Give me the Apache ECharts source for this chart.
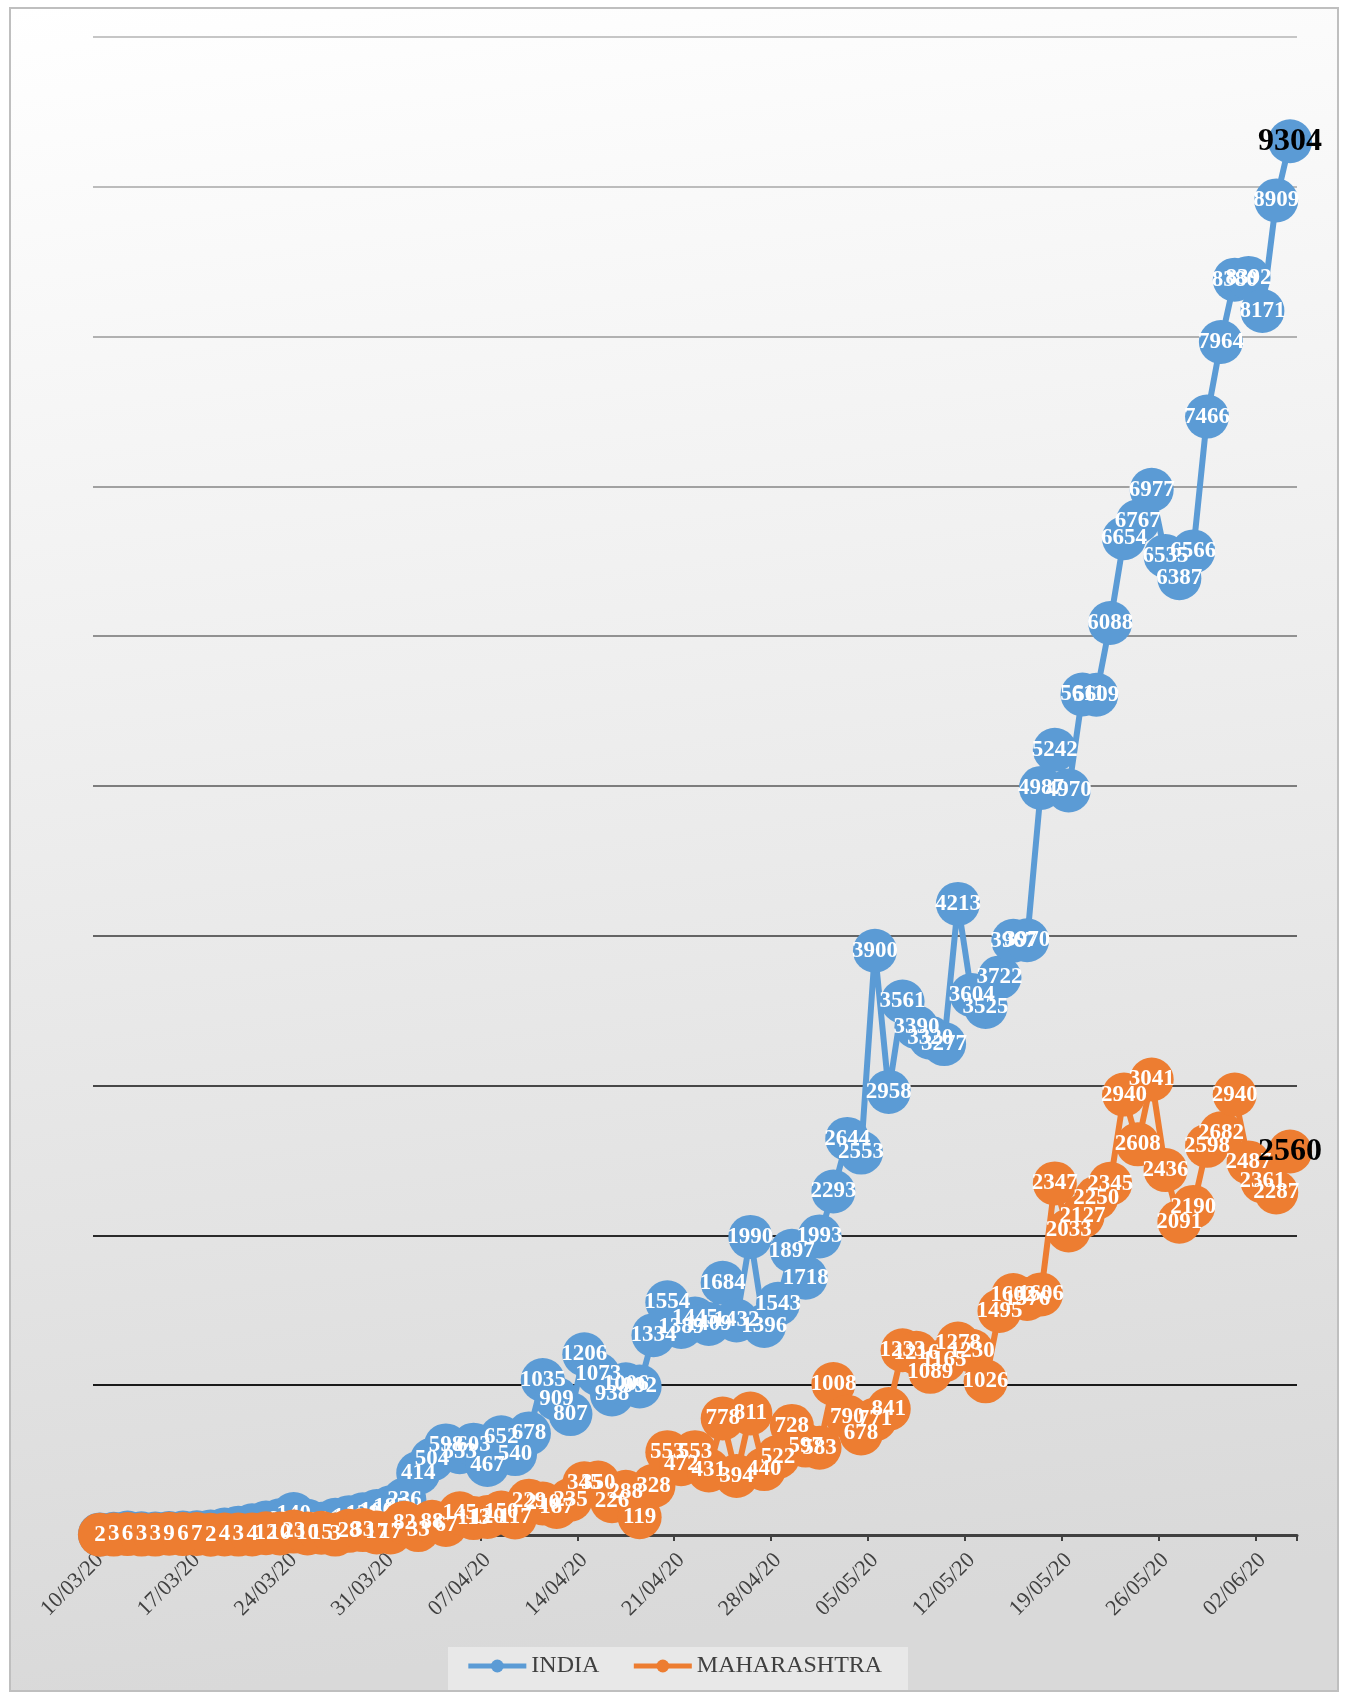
<!DOCTYPE html>
<html><head><meta charset="utf-8">
<script src="https://cdn.jsdelivr.net/npm/echarts@6/dist/echarts.min.js"></script>
<style>html,body{margin:0;padding:0;background:#ffffff}#c{width:1348px;height:1697px}</style>
</head><body><div id="c"></div>
<script>
const categories = [
'10/03/20','11/03/20','12/03/20','13/03/20','14/03/20','15/03/20','16/03/20','17/03/20','18/03/20','19/03/20',
'20/03/20','21/03/20','22/03/20','23/03/20','24/03/20','25/03/20','26/03/20','27/03/20','28/03/20','29/03/20',
'30/03/20','31/03/20','01/04/20','02/04/20','03/04/20','04/04/20','05/04/20','06/04/20','07/04/20','08/04/20',
'09/04/20','10/04/20','11/04/20','12/04/20','13/04/20','14/04/20','15/04/20','16/04/20','17/04/20','18/04/20',
'19/04/20','20/04/20','21/04/20','22/04/20','23/04/20','24/04/20','25/04/20','26/04/20','27/04/20','28/04/20',
'29/04/20','30/04/20','01/05/20','02/05/20','03/05/20','04/05/20','05/05/20','06/05/20','07/05/20','08/05/20',
'09/05/20','10/05/20','11/05/20','12/05/20','13/05/20','14/05/20','15/05/20','16/05/20','17/05/20','18/05/20',
'19/05/20','20/05/20','21/05/20','22/05/20','23/05/20','24/05/20','25/05/20','26/05/20','27/05/20','28/05/20',
'29/05/20','30/05/20','31/05/20','01/06/20','02/06/20','03/06/20','04/06/20'];

const india = [
4, 8, 16, 12, 10, 14, 16, 18, 24, 36,
49, 65, 83, 98, 140, 95, 75, 102, 119, 138,
160, 185, 236, 414, 504, 598, 553, 603, 467, 652,
540, 678, 1035, 909, 807, 1206, 1073, 938, 1006, 992,
1334, 1554, 1389, 1445, 1409, 1684, 1432, 1990, 1396, 1543,
1897, 1718, 1993, 2293, 2644, 2553, 3900, 2958, 3561, 3390,
3320, 3277, 4213, 3604, 3525, 3722, 3967, 3970, 4987, 5242,
4970, 5611, 5609, 6088, 6654, 6767, 6977, 6535, 6387, 6566,
7466, 7964, 8380, 8392, 8171, 8909, 9304];

const maharashtra = [
2, 3, 6, 3, 3, 9, 6, 7, 2, 4,
3, 4, 12, 10, 23, 10, 15, 3, 28, 33,
17, 17, 82, 33, 88, 67, 145, 113, 120, 150,
117, 229, 210, 187, 235, 345, 350, 226, 288, 119,
328, 553, 472, 553, 431, 778, 394, 811, 440, 522,
728, 597, 583, 1008, 790, 678, 771, 841, 1233, 1216,
1089, 1165, 1278, 1230, 1026, 1495, 1602, 1576, 1606, 2347,
2033, 2127, 2250, 2345, 2940, 2608, 3041, 2436, 2091, 2190,
2598, 2682, 2940, 2487, 2361, 2287, 2560];

const seriesNames = ['INDIA', 'MAHARASHTRA'];
const yMin = 0, yMax = 10000, yStep = 1000;

const FONT = '"Liberation Serif", "Times New Roman", serif';
const gridColors = ['#111111','#1a1a1a','#2a2a2a','#474747','#646464','#7d7d7d','#919191','#a1a1a1','#b1b1b1','#bcbcbc','#c6c6c6'];

function withLastLabel(arr) {
  return arr.map((v, i) => i === arr.length - 1
    ? { value: v, label: { color: '#000000', fontSize: 32, fontWeight: 'bold' } }
    : v);
}

const chart = echarts.init(document.getElementById('c'), null, { renderer: 'canvas' });
chart.setOption({
  animation: false,
  graphic: [
    { type: 'rect', z: -10, silent: true,
      shape: { x: 10, y: 8, width: 1328, height: 1683 },
      style: {
        fill: new echarts.graphic.LinearGradient(0, 0, 0.15, 1, [
          { offset: 0, color: '#ffffff' }, { offset: 1, color: '#d9d9d9' }]),
        stroke: '#bfbfbf', lineWidth: 2
      } },
    { type: 'rect', z: -9, silent: true,
      shape: { x: 448, y: 1647, width: 460, height: 43 },
      style: { fill: '#e8e8e8' } }
  ],
  grid: { left: 93, right: 51, top: 37, bottom: 162, containLabel: false },
  legend: {
    data: seriesNames,
    bottom: 14, left: 'center',
    itemWidth: 58, itemHeight: 16, itemGap: 32,
    lineStyle: { width: 5 },
    textStyle: { fontFamily: FONT, fontSize: 24, color: '#404040' }
  },
  xAxis: {
    type: 'category', data: categories, boundaryGap: true,
    axisLine: { lineStyle: { color: '#404040', width: 3 } },
    axisTick: { show: true, interval: 6, length: 6, lineStyle: { color: '#404040', width: 2 } },
    axisLabel: { interval: 6, rotate: 45, margin: 22, fontFamily: FONT, fontSize: 22, color: '#404040' },
    splitLine: { show: false }
  },
  yAxis: {
    type: 'value', min: yMin, max: yMax, interval: yStep,
    axisLabel: { show: false }, axisLine: { show: false }, axisTick: { show: false },
    splitLine: { show: true, lineStyle: { color: gridColors, width: 2 } }
  },
  series: [
    { name: seriesNames[0], type: 'line', data: withLastLabel(india), z: 2,
      color: '#5b9bd5', showAllSymbol: true, symbol: 'circle', symbolSize: 44,
      lineStyle: { width: 6, color: '#5b9bd5' }, itemStyle: { color: '#5b9bd5' },
      label: { show: true, position: 'inside', color: '#ffffff', fontFamily: FONT, fontWeight: 'bold', fontSize: 23 } },
    { name: seriesNames[1], type: 'line', data: withLastLabel(maharashtra), z: 3,
      color: '#ed7d31', showAllSymbol: true, symbol: 'circle', symbolSize: 44,
      lineStyle: { width: 6, color: '#ed7d31' }, itemStyle: { color: '#ed7d31' },
      label: { show: true, position: 'inside', color: '#ffffff', fontFamily: FONT, fontWeight: 'bold', fontSize: 23 } }
  ]
});
</script>
</body></html>
